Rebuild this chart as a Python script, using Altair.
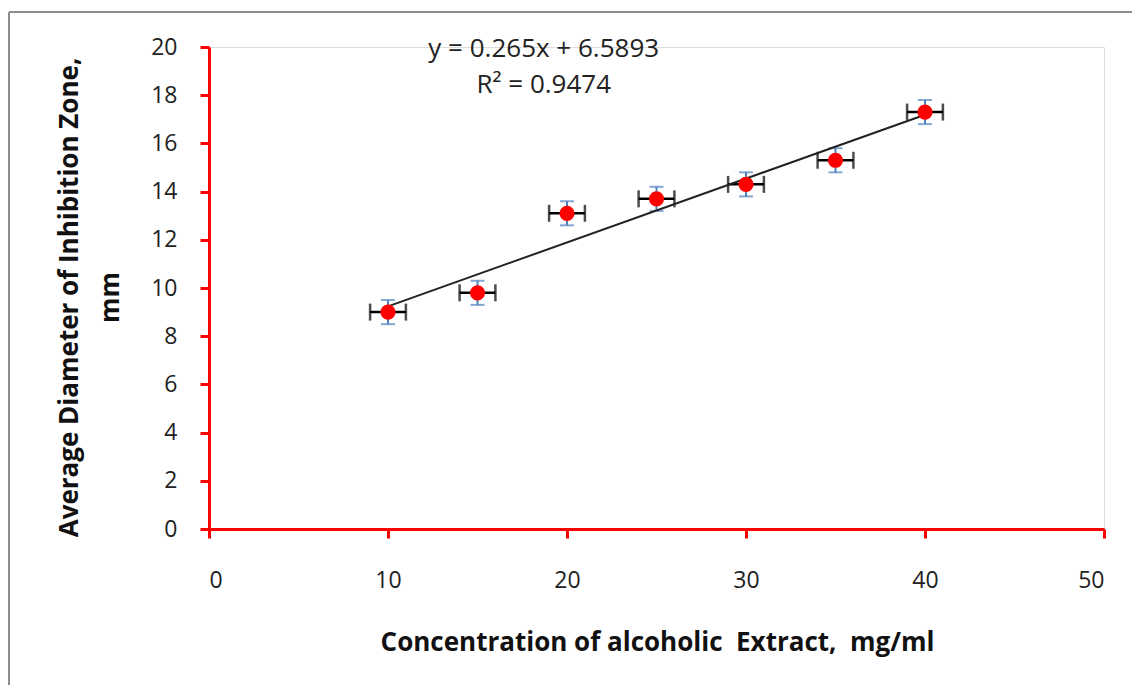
import altair as alt
import pandas as pd

# data
conc = [10, 15, 20, 25, 30, 35, 40]
diam = [9.0, 9.8, 13.1, 13.7, 14.3, 15.3, 17.3]
y_err = [0.5, 0.5, 0.5, 0.5, 0.5, 0.5, 0.5]
x_err = [1, 1, 1, 1, 1, 1, 1]

x_ticks = [0, 10, 20, 30, 40, 50]
y_ticks = [0, 2, 4, 6, 8, 10, 12, 14, 16, 18, 20]

eq_lines = ["y = 0.265x + 6.5893", "R² = 0.9474"]
eq_x = [18.7, 18.7]
eq_y = [19.58, 18.1]

df = pd.DataFrame({
    "x": conc, "y": diam,
    "ylo": [a - b for a, b in zip(diam, y_err)],
    "yhi": [a + b for a, b in zip(diam, y_err)],
    "xlo": [a - b for a, b in zip(conc, x_err)],
    "xhi": [a + b for a, b in zip(conc, x_err)],
})
eq_df = pd.DataFrame({"t": eq_lines, "x": eq_x, "y": eq_y})

FONT = "Open Sans"
xs = alt.Scale(domain=[0, 50], nice=False)
ys = alt.Scale(domain=[0, 20], nice=False)

x_axis = alt.Axis(
    values=x_ticks, grid=False, domainColor="red", domainWidth=3,
    tickColor="red", tickWidth=3, tickSize=9, labelPadding=31,
    labelFontSize=23, labelFont=FONT, labelColor="#222",
    title="Concentration of alcoholic\u00a0 Extract,\u00a0 mg/ml",
    titleFont=FONT, titleFontSize=26, titleFontWeight="bold", titleColor="#111",
    titleX=448, titleY=121, titleAlign="center", titleBaseline="alphabetic",
)
y_axis = alt.Axis(
    values=y_ticks, grid=False, domainColor="red", domainWidth=3,
    tickColor="red", tickWidth=3, tickSize=9, labelPadding=23,
    labelFontSize=23, labelFont=FONT, labelColor="#222",
    title=["Average Diameter of Inhibition Zone,", "mm"],
    titleFont=FONT, titleFontSize=26, titleFontWeight="bold", titleColor="#111",
    titleX=-132, titleY=250, titleAlign="center", titleBaseline="alphabetic",
    titleAngle=270, titleLineHeight=41,
)

base = alt.Chart(df)

xerr_rule = base.mark_rule(color="black", strokeWidth=2.5).encode(
    x=alt.X("xlo:Q", scale=xs, axis=x_axis), x2="xhi:Q",
    y=alt.Y("y:Q", scale=ys, axis=y_axis))
xerr_lo = base.mark_tick(color="black", orient="vertical", size=17, thickness=2.5).encode(
    x=alt.X("xlo:Q", scale=xs), y=alt.Y("y:Q", scale=ys))
xerr_hi = base.mark_tick(color="black", orient="vertical", size=17, thickness=2.5).encode(
    x=alt.X("xhi:Q", scale=xs), y=alt.Y("y:Q", scale=ys))

yerr_rule = base.mark_rule(color="#4F81BD", strokeWidth=2).encode(
    x=alt.X("x:Q", scale=xs), y=alt.Y("ylo:Q", scale=ys), y2="yhi:Q")
yerr_lo = base.mark_tick(color="#4F81BD", orient="horizontal", size=14, thickness=2).encode(
    x=alt.X("x:Q", scale=xs), y=alt.Y("ylo:Q", scale=ys))
yerr_hi = base.mark_tick(color="#4F81BD", orient="horizontal", size=14, thickness=2).encode(
    x=alt.X("x:Q", scale=xs), y=alt.Y("yhi:Q", scale=ys))

trend = base.transform_regression("x", "y", method="linear").mark_line(
    color="#222", strokeWidth=2).encode(
    x=alt.X("x:Q", scale=xs), y=alt.Y("y:Q", scale=ys))

points = base.mark_point(filled=True, color="red", size=230, opacity=1).encode(
    x=alt.X("x:Q", scale=xs), y=alt.Y("y:Q", scale=ys))

eq = alt.Chart(eq_df).mark_text(font=FONT, fontSize=26, color="#222",
                                align="center", baseline="alphabetic").encode(
    x=alt.X("x:Q", scale=xs), y=alt.Y("y:Q", scale=ys), text="t:N")

frame_top = alt.Chart(eq_df).mark_rule(color="#8c8c8c", strokeWidth=2).encode(
    x=alt.value(-200), x2=alt.value(923), y=alt.value(-35))
frame_left = alt.Chart(eq_df).mark_rule(color="#8c8c8c", strokeWidth=2).encode(
    x=alt.value(-200), y=alt.value(-35), y2=alt.value(638))

chart = alt.layer(frame_top, frame_left, xerr_rule, xerr_lo, xerr_hi, yerr_rule,
                  yerr_lo, yerr_hi, trend, points, eq).properties(
    width=895, height=482,
    autosize=alt.AutoSizeParams(type="none"),
    padding={"left": 201, "top": 39, "right": 28, "bottom": 156},
).configure_view(stroke=None).configure(background="white")

chart.save("out.html", embed_options={"renderer": "svg", "actions": False})
